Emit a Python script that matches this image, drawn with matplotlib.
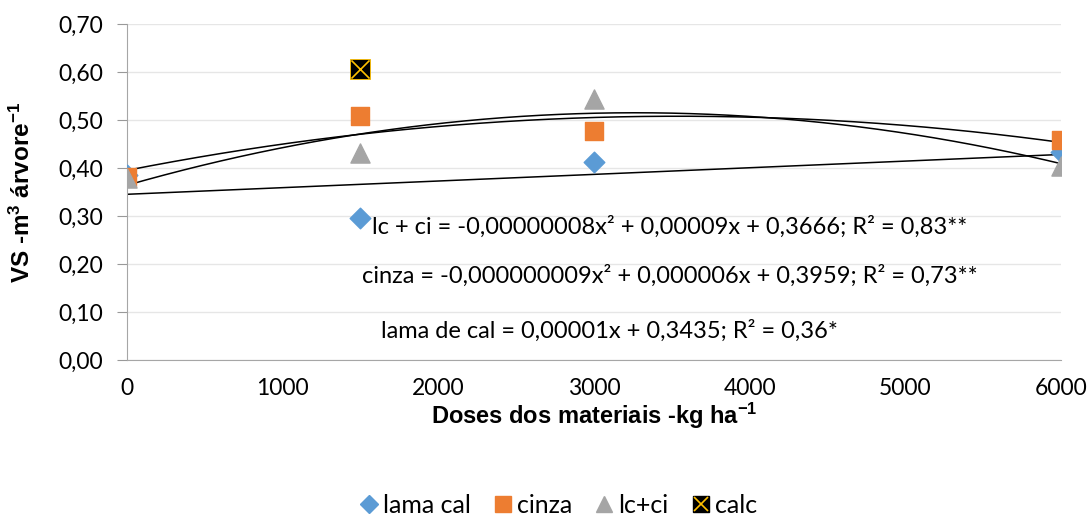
import numpy as np
import matplotlib
matplotlib.use('Agg')
import matplotlib.pyplot as plt
from matplotlib.legend_handler import HandlerTuple
from matplotlib.lines import Line2D

plt.rcParams['mathtext.default'] = 'regular'

doses = [0, 1500, 3000, 6000]
lama_cal = [0.385, 0.296, 0.412, 0.433]
cinza = [0.381, 0.508, 0.477, 0.458]
lc_ci = [0.379, 0.431, 0.544, 0.404]
calc_x = [1500]
calc_y = [0.607]

eq_lcci = 'lc + ci = -0,00000008x² + 0,00009x + 0,3666; R² = 0,83**'
eq_cinza = 'cinza = -0,000000009x² + 0,000006x + 0,3959; R² = 0,73**'
eq_lama = 'lama de cal = 0,00001x + 0,3435; R² = 0,36*'

tick_font = 'Lato'
lab_font = 'Liberation Sans'

fig = plt.figure(figsize=(10.89, 5.17), dpi=100)
ax = fig.add_axes([0.1166, 0.3037, 0.8577, 0.6499])

# trend lines fitted from the data
xs = np.linspace(0, 6000, 200)
p_lama = np.polyfit(doses, lama_cal, 1)
p_cinza = np.polyfit(doses, cinza, 2)
p_lcci = np.polyfit(doses, lc_ci, 2)
for p in (p_lama, p_cinza, p_lcci):
    ax.plot(xs, np.polyval(p, xs), color='black', lw=1.1, zorder=2)

ax.scatter(doses, lama_cal, marker='D', s=110, color='#5b9bd5', zorder=3)
ax.scatter(doses, cinza, marker='s', s=170, color='#ed7d31', zorder=3)
ax.scatter(doses, lc_ci, marker='^', s=190, color='#a5a5a5', zorder=4)
ax.scatter(calc_x, calc_y, marker='s', s=200, color='black', edgecolor='#ffc000', lw=0.6, zorder=5)
ax.scatter(calc_x, calc_y, marker='x', s=170, color='#ffc000', lw=1.2, zorder=6)

ax.set_xlim(0, 6000)
ax.set_ylim(0, 0.70)
ax.set_xticks(range(0, 6001, 1000))
ax.set_yticks(np.arange(0, 0.71, 0.1))
ax.set_yticklabels([f'{v:.2f}'.replace('.', ',') for v in np.arange(0, 0.71, 0.1)])
ax.tick_params(axis='both', labelsize=16.5, colors='#999999', labelcolor='black')
ax.tick_params(axis='x', length=0, pad=13)
ax.tick_params(axis='y', length=7, pad=10)
for lab in ax.get_xticklabels() + ax.get_yticklabels():
    lab.set_family(tick_font)
ax.grid(axis='y', color='#e6e6e6', lw=1)
ax.set_axisbelow(True)
for s in ('top', 'right'):
    ax.spines[s].set_visible(False)
ax.spines['left'].set_color('#a6a6a6')
ax.spines['bottom'].set_color('#a6a6a6')

ax.set_ylabel('VS -m$^3$ árvore$^{-1}$', fontsize=17.5, fontweight='bold', family=lab_font, labelpad=17)
ax.set_xlabel('Doses dos materiais -kg ha$^{-1}$', fontsize=17, fontweight='bold', family=lab_font, labelpad=1)

ax.text(1574, 0.277, eq_lcci, fontsize=17, family=tick_font, va='center')
ax.text(1510, 0.175, eq_cinza, fontsize=17, family=tick_font, va='center')
ax.text(1632, 0.060, eq_lama, fontsize=17, family=tick_font, va='center')

handles = [
    Line2D([], [], marker='D', ls='', color='#5b9bd5', markersize=9),
    Line2D([], [], marker='s', ls='', color='#ed7d31', markersize=12),
    Line2D([], [], marker='^', ls='', color='#a5a5a5', markersize=12),
    (Line2D([], [], marker='s', ls='', color='black', markersize=12),
     Line2D([], [], marker='x', ls='', color='#ffc000', markersize=10, mew=1.2)),
]
labels = ['lama cal', 'cinza', 'lc+ci', 'calc']
fig.legend(handles, labels, loc='center', bbox_to_anchor=(0.511, 0.022), ncol=4,
           frameon=False, prop={'family': tick_font, 'size': 18},
           handler_map={tuple: HandlerTuple(ndivide=1)},
           handletextpad=0.05, columnspacing=0.8, handlelength=1.0)

fig.savefig('out.png', dpi=100)
